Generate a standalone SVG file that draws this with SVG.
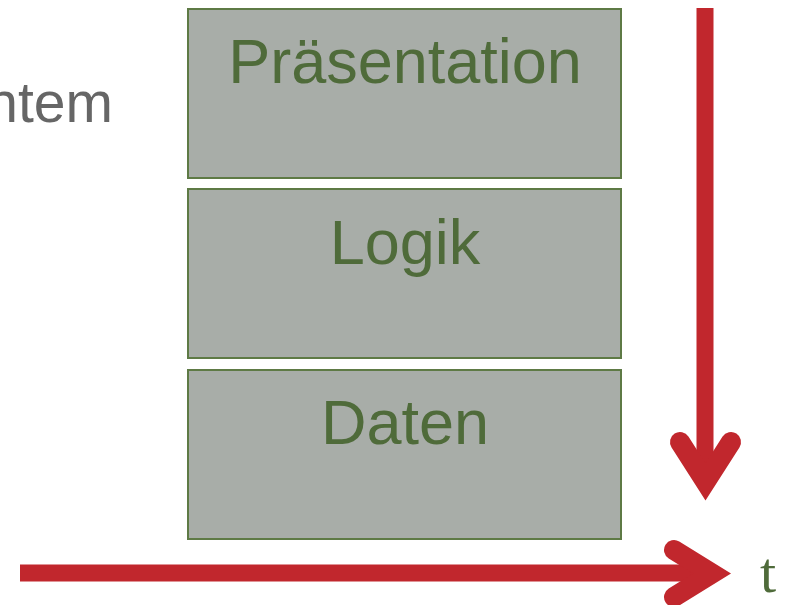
<svg xmlns="http://www.w3.org/2000/svg" width="788" height="605" viewBox="0 0 788 605">
  <style>
    .layer { fill: #A8ADA8; stroke: #5E7A45; stroke-width: 2; }
    .label { font-family: "Liberation Sans", Arial, sans-serif; font-size: 63px; fill: #4F6B3A; text-anchor: middle; }
    .axis { fill: none; stroke: #C1272D; }
    .shaft { stroke-width: 17; stroke-linecap: butt; }
    .head { stroke-width: 20; stroke-linecap: round; stroke-linejoin: miter; stroke-miterlimit: 10; }
  </style>
  <rect width="788" height="605" fill="#FFFFFF"/>
  <text x="113" y="122" font-family="Liberation Sans, Arial, sans-serif" font-size="57" fill="#666666" text-anchor="end">ntem</text>

  <g id="praesentation">
    <rect class="layer" x="188" y="9" width="433" height="169"/>
    <text class="label" x="405" y="83">Präsentation</text>
  </g>
  <g id="logik">
    <rect class="layer" x="188" y="189" width="433" height="169"/>
    <text class="label" x="405" y="264">Logik</text>
  </g>
  <g id="daten">
    <rect class="layer" x="188" y="370" width="433" height="169"/>
    <text class="label" x="405" y="444">Daten</text>
  </g>

  <g id="connectors">
    <path class="axis shaft" d="M705,8 V478"/>
    <path class="axis head" d="M680,442 L705.5,482 L731,442"/>
    <path class="axis shaft" d="M20,573 H708"/>
    <path class="axis head" d="M674,550 L712,573.5 L674,597"/>
  </g>
  <text x="760" y="592" font-family="Liberation Serif, Times New Roman, serif" font-size="58" fill="#4F6B3A">t</text>
</svg>
